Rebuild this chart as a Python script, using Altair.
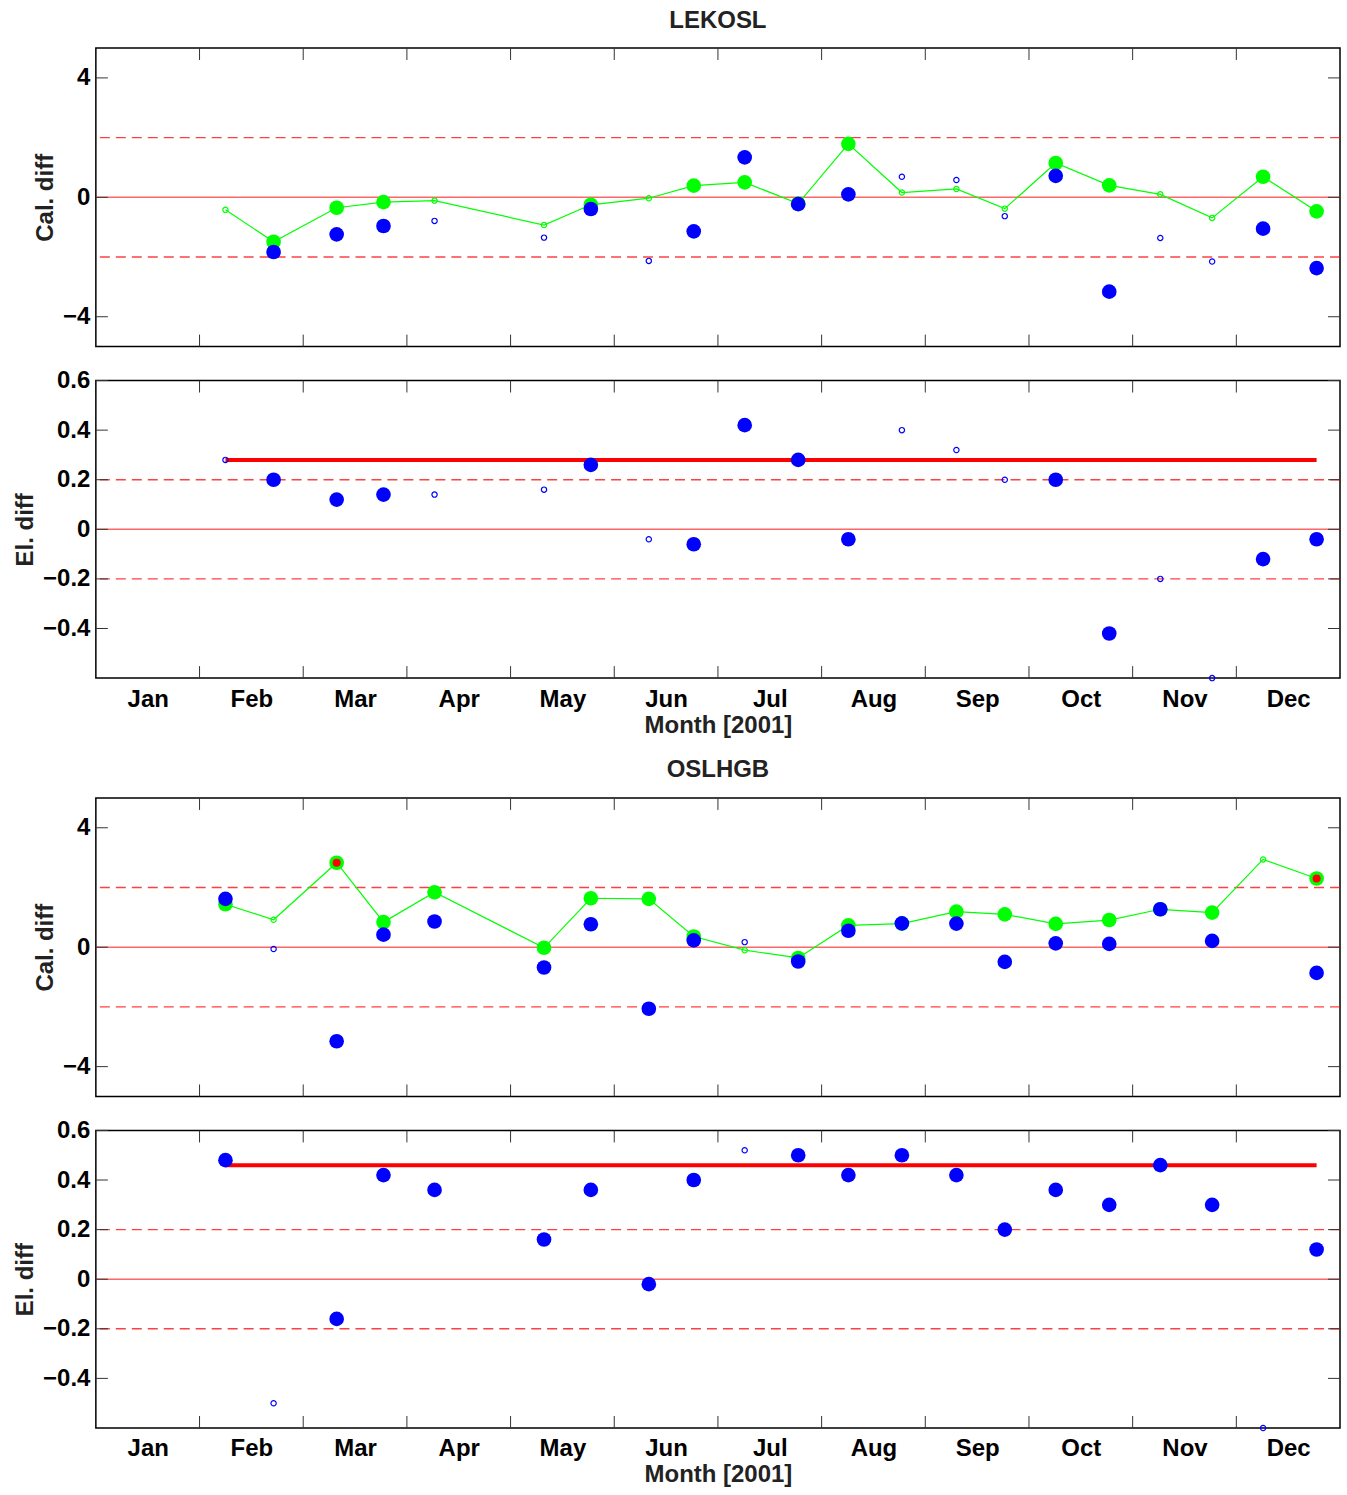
import altair as alt
import pandas as pd

# ---------------- data ----------------
dates = ["2001-02-07", "2001-02-20", "2001-03-10", "2001-03-24", "2001-04-08",
         "2001-05-10", "2001-05-24", "2001-06-10", "2001-06-23", "2001-07-08",
         "2001-07-24", "2001-08-08", "2001-08-24", "2001-09-09", "2001-09-23",
         "2001-10-08", "2001-10-24", "2001-11-08", "2001-11-23", "2001-12-08",
         "2001-12-24"]

months = ["Jan", "Feb", "Mar", "Apr", "May", "Jun", "Jul", "Aug", "Sep", "Oct", "Nov", "Dec"]

# LEKOSL
lek_cal_blue = [None, -1.83, -1.24, -0.96, -0.79, -1.35, -0.39, -2.13, -1.14, 1.34,
                -0.23, 0.10, 0.69, 0.58, -0.63, 0.72, -3.16, -1.36, -2.15, -1.05, -2.37]
lek_cal_green = [-0.42, -1.49, -0.35, -0.16, -0.11, -0.93, -0.25, -0.03, 0.39, 0.50,
                 -0.21, 1.79, 0.16, 0.28, -0.38, 1.15, 0.40, 0.10, -0.69, 0.69, -0.47]
lek_el_blue = [0.28, 0.20, 0.12, 0.14, 0.14, 0.16, 0.26, -0.04, -0.06, 0.42,
               0.28, -0.04, 0.40, 0.32, 0.20, 0.20, -0.42, -0.20, -0.60, -0.12, -0.04]
lek_big = [0, 1, 1, 1, 0, 0, 1, 0, 1, 1, 1, 1, 0, 0, 0, 1, 1, 0, 0, 1, 1]
lek_red = [0] * 21
lek_el_mean = 0.28

# OSLHGB
osl_cal_blue = [1.62, -0.06, -3.15, 0.42, 0.86, -0.68, 0.77, -2.06, 0.23, 0.17,
                -0.48, 0.55, 0.80, 0.79, -0.49, 0.13, 0.11, 1.27, 0.21, None, -0.86]
osl_cal_green = [1.44, 0.92, 2.83, 0.84, 1.84, -0.02, 1.64, 1.62, 0.36, -0.10,
                 -0.36, 0.73, 0.79, 1.19, 1.10, 0.78, 0.91, 1.27, 1.16, 2.94, 2.30]
osl_el_blue = [0.48, -0.50, -0.16, 0.42, 0.36, 0.16, 0.36, -0.02, 0.40, 0.52,
               0.50, 0.42, 0.50, 0.42, 0.20, 0.36, 0.30, 0.46, 0.30, -0.60, 0.12]
osl_big = [1, 0, 1, 1, 1, 1, 1, 1, 1, 0, 1, 1, 1, 1, 1, 1, 1, 1, 1, 0, 1]
osl_red = [0, 0, 1, 0, 0, 0, 0, 0, 0, 0, 0, 0, 0, 0, 0, 0, 0, 0, 0, 0, 1]
osl_el_mean = 0.46

cal_ticks = [-4, 0, 4]
el_ticks = [-0.4, -0.2, 0, 0.2, 0.4, 0.6]
cal_ref = [-2, 0, 2]
el_ref = [-0.2, 0, 0.2]

# ---------------- style ----------------
W = 1246
H = 299
FONT = "Liberation Sans"
BLUE = "#0000ff"
GREEN = "#00ff00"
RED = "#ff0000"
BIG = 215
SMALL = 28
TICK = 12


def month_pos(d):
    t = pd.Timestamp(d)
    return (t.month - 1) + t.day / t.days_in_month


xpos = [month_pos(d) for d in dates]

label_expr = "[" + ",".join("'%s'" % m for m in months) + "][floor(datum.value)]"


def x_enc(show_axis, field="x"):
    if show_axis:
        ax = alt.Axis(values=[i + 0.5 for i in range(12)], labelExpr=label_expr,
                      ticks=False, domain=False, grid=False,
                      labelFont=FONT, labelFontSize=24, labelFontWeight="bold",
                      labelColor="black", labelPadding=9, labelAngle=0,
                      title="Month [2001]", titleFont=FONT, titleFontSize=24,
                      titleFontWeight="bold", titleColor="#222222", titlePadding=2)
    else:
        ax = None
    return alt.X(field + ":Q", scale=alt.Scale(domain=[0, 12], nice=False, zero=False),
                 axis=ax)


def y_enc(domain, ticks, fmt, title, field="y"):
    ax = alt.Axis(values=ticks, format=fmt, ticks=False, domain=False, grid=False,
                  labelFont=FONT, labelFontSize=24, labelFontWeight="bold",
                  labelColor="black", labelPadding=6,
                  title=title, titleFont=FONT, titleFontSize=24, titleFontWeight="bold",
                  titleColor="#222222", titlePadding=5)
    return alt.Y(field + ":Q", scale=alt.Scale(domain=domain, nice=False, zero=False),
                 axis=ax)


def panel(blue, green, big, red, domain, ticks, ref, fmt, ytitle, show_x,
          mean=None, h=H, title=None):
    df = pd.DataFrame({"x": xpos, "blue": blue, "big": big, "red": red})
    if green is not None:
        df["green"] = green
    X = x_enc(show_x)
    Y = y_enc(domain, ticks, fmt, ytitle)

    ref_df = pd.DataFrame({"y": ref, "dash": [1 if v != 0 else 0 for v in ref]})
    dashed = alt.Chart(ref_df).transform_filter("datum.dash == 1").mark_rule(
        color=RED, strokeWidth=1.4, opacity=0.75, strokeDash=[10, 6]).encode(y=Y)
    solid = alt.Chart(ref_df).transform_filter("datum.dash == 0").mark_rule(
        color=RED, strokeWidth=1.6, opacity=0.6).encode(y=Y)

    ytick_df = pd.DataFrame({"y": ticks})
    ytl = alt.Chart(ytick_df).mark_rule(color="#333333", strokeWidth=1).encode(
        y=Y, x=alt.value(0), x2=alt.value(TICK))
    ytr = alt.Chart(ytick_df).mark_rule(color="#333333", strokeWidth=1).encode(
        y=Y, x=alt.value(W - TICK), x2=alt.value(W))
    xtick_df = pd.DataFrame({"x": list(range(1, 12))})
    xtt = alt.Chart(xtick_df).mark_rule(color="#333333", strokeWidth=1).encode(
        x=X, y=alt.value(0), y2=alt.value(TICK))
    xtb = alt.Chart(xtick_df).mark_rule(color="#333333", strokeWidth=1).encode(
        x=X, y=alt.value(h - TICK), y2=alt.value(h))

    layers = [dashed, solid, ytl, ytr, xtt, xtb]

    base = alt.Chart(df)
    if mean is not None:
        mdf = pd.DataFrame({"x": [xpos[0]], "x2": [xpos[-1]], "y": [mean]})
        layers.append(alt.Chart(mdf).mark_rule(color=RED, strokeWidth=4).encode(
            x=X, x2="x2:Q", y=Y))
    if green is not None:
        layers.append(base.transform_filter("isValid(datum.green)").transform_calculate(
            y="datum.green").mark_line(color=GREEN, strokeWidth=1.2).encode(
            x=X, y=Y, order="x:Q"))
        layers.append(base.transform_filter("isValid(datum.green) && datum.big == 1")
                      .transform_calculate(y="datum.green")
                      .mark_circle(color=GREEN, size=BIG, opacity=1).encode(x=X, y=Y))
        layers.append(base.transform_filter("isValid(datum.green) && datum.big == 0")
                      .transform_calculate(y="datum.green")
                      .mark_point(shape="circle", filled=False, color=GREEN, size=SMALL,
                                  strokeWidth=1.2, opacity=1).encode(x=X, y=Y))
        layers.append(base.transform_filter("isValid(datum.green) && datum.red == 1")
                      .transform_calculate(y="datum.green")
                      .mark_circle(color=RED, size=64, opacity=1).encode(x=X, y=Y))
    layers.append(base.transform_filter("isValid(datum.blue) && datum.big == 1")
                  .transform_calculate(y="datum.blue")
                  .mark_circle(color=BLUE, size=BIG, opacity=1).encode(x=X, y=Y))
    layers.append(base.transform_filter("isValid(datum.blue) && datum.big == 0")
                  .transform_calculate(y="datum.blue")
                  .mark_point(shape="circle", filled=False, color=BLUE, size=SMALL,
                              strokeWidth=1.2, opacity=1).encode(x=X, y=Y))

    props = dict(width=W, height=h)
    if title is not None:
        props["title"] = alt.TitleParams(title, font=FONT, fontSize=24, fontWeight="bold",
                                         color="#222222", anchor="middle",
                                         baseline="alphabetic", offset=-4)
    return alt.layer(*layers).properties(**props)


p1 = panel(lek_cal_blue, lek_cal_green, lek_big, lek_red, [-5, 5], cal_ticks, cal_ref,
           "d", "Cal. diff", False, h=299, title="LEKOSL")
p2 = panel(lek_el_blue, None, lek_big, lek_red, [-0.6, 0.6], el_ticks, el_ref,
           ".1~f", "El. diff", True, mean=lek_el_mean, h=298)
p3 = panel(osl_cal_blue, osl_cal_green, osl_big, osl_red, [-5, 5], cal_ticks, cal_ref,
           "d", "Cal. diff", False, h=299, title="OSLHGB")
p4 = panel(osl_el_blue, None, osl_big, osl_red, [-0.6, 0.6], el_ticks, el_ref,
           ".1~f", "El. diff", True, mean=osl_el_mean, h=298)

top = alt.vconcat(p1, p2, spacing=19)
bottom = alt.vconcat(p3, p4, spacing=19)

chart = alt.vconcat(top, bottom, spacing=19).properties(
    padding={"left": 12, "top": 6, "right": 5, "bottom": 5},
    background="white",
).configure_view(stroke="black", strokeWidth=1.5)

chart.save("out.html", embed_options={"renderer": "svg", "actions": False})
